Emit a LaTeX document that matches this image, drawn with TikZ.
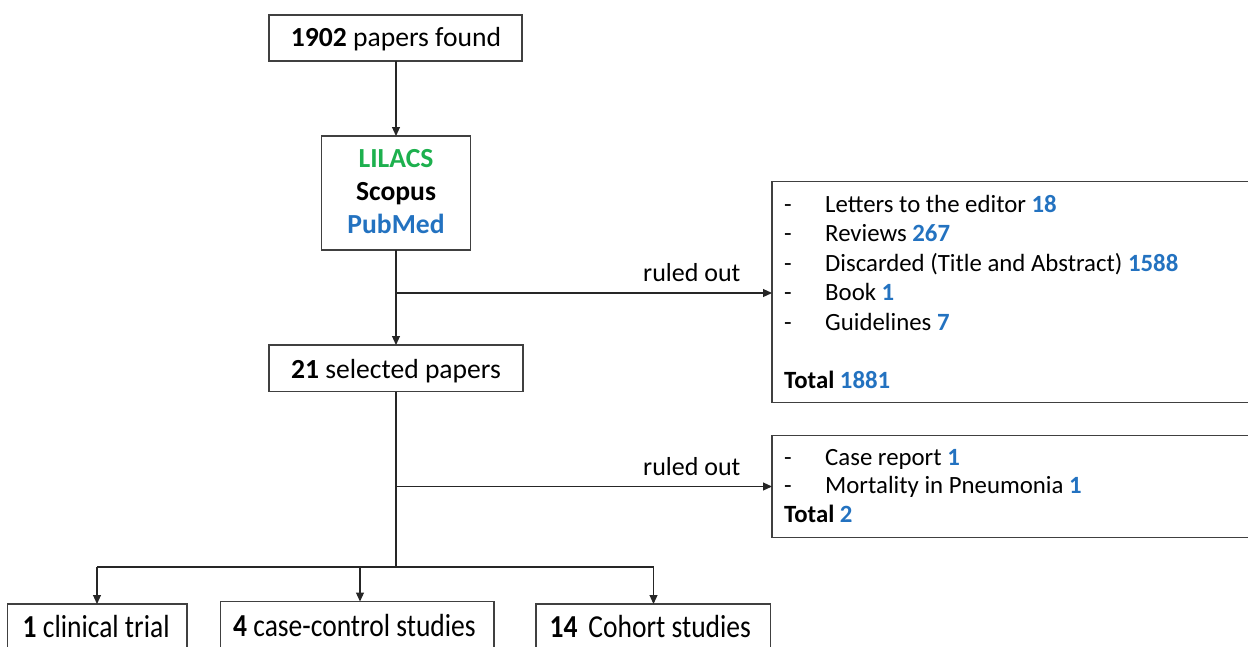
\documentclass[tikz,border=0pt]{standalone}
\usepackage{fontspec}
\setmainfont{Carlito}
\usetikzlibrary{arrows.meta}
\definecolor{numblue}{HTML}{2372C0}
\definecolor{dbgreen}{HTML}{1DB04E}
\definecolor{linegray}{HTML}{404040}
\newcommand{\nb}[1]{\textbf{\color{numblue}#1}}
\tikzset{
  boxline/.style={draw=linegray, line width=1.1pt},
  conn/.style={draw=black!85, line width=1.1pt},
  arr/.style={conn, -{Triangle[length=9pt,width=8pt]}},
  txt/.style={inner sep=0pt, anchor=base west, font=\fontsize{24.8}{30}\selectfont},
  txtc/.style={inner sep=0pt, anchor=base, font=\fontsize{27.6}{32}\selectfont},
  btxt/.style={inner sep=0pt, anchor=base west, font=\fontsize{32}{36}\selectfont},
  rulab/.style={pos=1, anchor=base east, inner sep=0pt, yshift=11.5pt, xshift=-31pt, font=\fontsize{26}{30}\selectfont},
}
\begin{document}
\begin{tikzpicture}[x=1pt,y=-1pt]
\useasboundingbox (0,0) rectangle (1248,646);
% boxes
\draw[boxline] (269,15) rectangle (522,61);
\node[txtc] (t1902) at (396,46.5) {\textbf{1902} papers found};
\coordinate (topbot) at (396,61);

\draw[boxline] (321.5,136) rectangle (470.5,250);
\coordinate (dbtop) at (396,136);
\coordinate (dbbot) at (396,250);
\node[txtc] (lil) at (396,167) {\textbf{\color{dbgreen}LILACS}};
\node[txtc] (sco) at (396,200.5) {\textbf{Scopus}};
\node[txtc] (pub) at (396,233.5) {\textbf{\color{numblue}PubMed}};

\draw[boxline] (269,345) rectangle (523,391.5);
\node[txtc] (sel) at (396,378) {\textbf{21} selected papers};
\coordinate (seltop) at (396,345);
\coordinate (selbot) at (396,391.5);

% right box 1
\draw[boxline] (772,181.5) rectangle (1262,402.5);
\coordinate (r1) at (772,293);
\node[txt] (d1) at (784,212) {-};
\node[txt] (d2) at (784,241.5) {-};
\node[txt] (d3) at (784,271) {-};
\node[txt] (d4) at (784,300.5) {-};
\node[txt] (d5) at (784,330) {-};
\node[txt] (i1) at (825,212) {Letters to the editor \nb{18}};
\node[txt] (i2) at (825,241.5) {Reviews \nb{267}};
\node[txt] (i3) at (825,271) {Discarded (Title and Abstract) \nb{1588}};
\node[txt] (i4) at (825,300.5) {Book \nb{1}};
\node[txt] (i5) at (825,330) {Guidelines \nb{7}};
\node[txt] (tot1) at (784,388) {\textbf{Total} \nb{1881}};

% right box 2
\draw[boxline] (772,435.5) rectangle (1262,537.5);
\coordinate (r2) at (772,486.5);
\node[txt] (e1) at (784,465) {-};
\node[txt] (e2) at (784,493.5) {-};
\node[txt] (j1) at (825,465) {Case report \nb{1}};
\node[txt] (j2) at (825,493.5) {Mortality in Pneumonia \nb{1}};
\node[txt] (tot2) at (784,522) {\textbf{Total} \nb{2}};

% bottom boxes
\draw[boxline] (7.5,604) rectangle (187,660);
\draw[boxline] (220.5,601.5) rectangle (494,660);
\draw[boxline] (536,604) rectangle (770.5,660);
\coordinate (b1) at (97,604);
\coordinate (b2) at (360,601.5);
\coordinate (b3) at (653.5,604);
\node[btxt] (bt1) at (22.5,637) {\scalebox{0.86}[1]{\textbf{1} clinical trial}};
\node[btxt] (bt2) at (233,636) {\scalebox{0.86}[1]{\textbf{4} case-control studies}};
\node[btxt] (bt3) at (549.5,637) {\scalebox{0.86}[1]{\textbf{14}\, Cohort studies}};

% connectors
\draw[arr] (topbot) -- (dbtop);
\coordinate (j1c) at (396,293);
\coordinate (j2c) at (396,486.5);
\coordinate (hb) at (396,567);
\coordinate (hl) at (97,567);
\coordinate (hm) at (360,567);
\coordinate (hr) at (653.5,567);
\draw[arr] (dbbot) -- (seltop);
\draw[arr] (j1c) -- (r1) node[rulab] (ro1) {ruled out};
\draw[conn] (selbot) -- (hb);
\draw[arr] (j2c) -- (r2) node[rulab] (ro2) {ruled out};
\draw[conn] (hl) -- (hr);
\draw[arr] (hl) -- (b1);
\draw[arr] (hm) -- (b2);
\draw[arr] (hr) -- (b3);
\end{tikzpicture}
\end{document}
